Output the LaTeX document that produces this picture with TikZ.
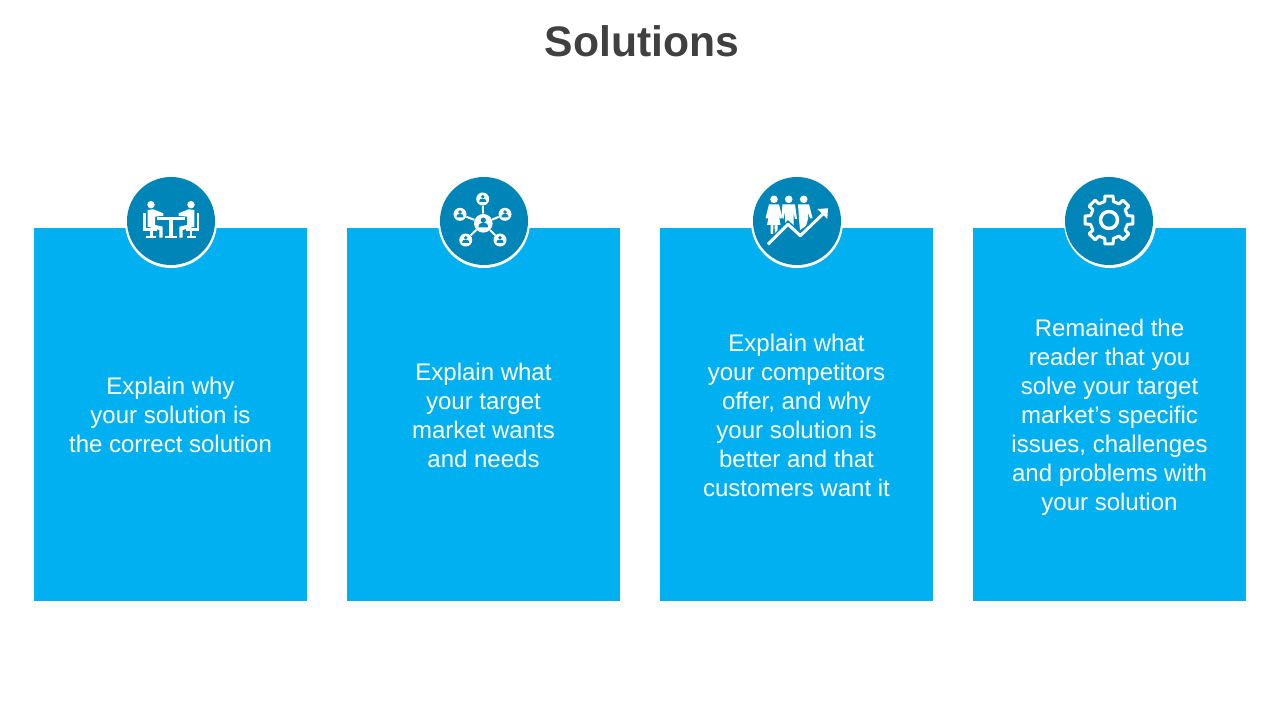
\documentclass[tikz,border=0pt]{standalone}
\usepackage{fontspec}
\setmainfont{Liberation Sans}
\definecolor{boxblue}{HTML}{00B0F0}
\definecolor{badgeblue}{HTML}{0085B8}
\definecolor{titlegray}{HTML}{404040}
\tikzset{
  boxstyle/.style={fill=boxblue,text=white,align=center,inner sep=0,minimum width=204.75pt,minimum height=279.75pt,font=\fontsize{18}{21.75}\selectfont},
  ringstyle/.style={circle,fill=white,inner sep=0,minimum size=69pt},
  badgestyle/.style={circle,fill=badgeblue,inner sep=0,minimum size=66pt},
  titlestyle/.style={text=titlegray,font=\fontsize{32}{40}\selectfont\bfseries,inner sep=0},
  hubstyle/.style={circle,fill=white,inner sep=0,minimum size=#1},
  iconline/.style={draw=white,line width=1.5pt,line join=round},
  pics/sitter/.style={code={
    \fill[white] (-20,-17.3) circle (3.7);
    \fill[white] (-23.3,-12)--(-17.7,-12.7)--(-7.7,-8.7)--(-7.7,-6.3)--(-16,-5.3)--(-16,3)--(-8.3,4.7)--(-8.3,15.7)--(-11.7,15.7)--(-11.7,8)--(-23.3,4.7)--cycle;
    \fill[white] (-27.7,-9) rectangle (-25.5,8.7);
    \fill[white] (-27.7,6.5) rectangle (-14.5,8.7);
    \fill[white] (-21,8.7) rectangle (-18.5,14);
    \fill[white] (-25,13.7) rectangle (-15.5,15.7);
  }},
  pics/tinyperson/.style={code={
    \fill[badgeblue] (0,-2.2) circle (1.9);
    \fill[badgeblue] (-3.3,3)--(-3.3,1.6)to[out=90,in=180](-1,-0.2)--(1,-0.2)to[out=0,in=90](3.3,1.6)--(3.3,3)--cycle;
  }},
}
\begin{document}
\begin{tikzpicture}[x=0.75pt,y=-0.75pt]
\useasboundingbox (0,0) rectangle (1280,720);
\node[titlestyle](title) at (642,41){Solutions};
% boxes
\node[boxstyle](box1) at (170.5,414.5){Explain why\\your solution is\\the correct solution};
\node[boxstyle](box2) at (483.5,414.5){\rule{0pt}{14.5pt}Explain what\\your target\\market wants\\and needs};
\node[boxstyle](box3) at (796.5,414.5){\rule{0pt}{14pt}Explain what\\your competitors\\offer, and why\\your solution is\\better and that\\customers want it};
\node[boxstyle](box4) at (1109.5,414.5){\rule{0pt}{17.5pt}Remained the\\reader that you\\solve your target\\market’s specific\\issues, challenges\\and problems with\\your solution};
% badges
\node[ringstyle](ring1) at (171,222){};
\node[ringstyle](ring2) at (484,222){};
\node[ringstyle](ring3) at (797,222){};
\node[ringstyle](ring4) at (1110,222){};
\node[badgestyle](badge1) at (171,221){};
\node[badgestyle](badge2) at (484,221){};
\node[badgestyle](badge3) at (797,221){};
\node[badgestyle](badge4) at (1109,221){};
% table icon
\begin{scope}[shift={(ring1.center)}]
\pic at (0,0) {sitter};
\pic[xscale=-1] at (0,0) {sitter};
\fill[white] (-14,-4.5) rectangle (14,-2.3);
\fill[white] (-1.6,-2.3) rectangle (1.6,15);
\fill[white] (-6,13.7) rectangle (6,15.7);
\end{scope}
% network icon
\begin{scope}[shift={(ring2.center)}]
\node[hubstyle=14pt](hub) at (-0.7,1.3){};
\node[hubstyle=9.75pt](hubA) at (-1.3,-23){};
\node[hubstyle=9.75pt](hubB) at (-24,-7.7){};
\node[hubstyle=9.75pt](hubC) at (21,-7.7){};
\node[hubstyle=9.75pt](hubD) at (-18.3,18){};
\node[hubstyle=9.75pt](hubE) at (16,18){};
\draw[iconline] (hub)--(hubA);
\draw[iconline] (hub)--(hubB);
\draw[iconline] (hub)--(hubC);
\draw[iconline] (hub)--(hubD);
\draw[iconline] (hub)--(hubE);
\pic[scale=1.4] at (hub) {tinyperson};
\pic at (hubA) {tinyperson};
\pic at (hubB) {tinyperson};
\pic at (hubC) {tinyperson};
\pic at (hubD) {tinyperson};
\pic at (hubE) {tinyperson};
\end{scope}
% people and arrow icon
\begin{scope}[shift={(ring3.center)}]
\fill[white] (-23,-22.7) circle (3.8);
\fill[white] (-8.3,-22.7) circle (3.8);
\fill[white] (6.7,-22.7) circle (3.8);
\fill[white] (-28,-17.7)--(-18,-17.7)--(-14.5,-3.5)--(-17,-3.5)--(-18.5,-9)--(-16.5,3)--(-19.5,3)--(-19.5,12)--(-22,12)--(-22.5,3)--(-23.5,3)--(-24,12)--(-26.5,12)--(-26.5,3)--(-30,3)--(-27.5,-9)--(-29,-3.5)--(-31.5,-3.5)--cycle;
\fill[white] (-14.5,-17.7)--(-2,-17.7)--(0,-3)--(-2,-3)--(-3.5,-10)--(-3.5,4)--(-12,4)--(-12,-10)--(-13.5,-3)--(-15.5,-6)--cycle;
\fill[white] (1,-17.7)--(12,-17.7)--(15.5,-4)--(13,-3.5)--(11,-10)--(11,-3)--(9,4)--(3,8)--(2,-3)--cycle;
\draw[draw=badgeblue,line width=4.5pt] (-29,22.3)--(-9,2.3)--(3.3,13.7)--(24,-6);
\draw[iconline,line width=2.25pt] (-29,22.3)--(-9,2.3)--(3.3,13.7)--(28,-10);
\fill[white] (20.3,-13)--(31,-13.7)--(30.3,-3)--cycle;
\end{scope}
% gear icon
\begin{scope}[shift={(badge4.center)},yshift=0.75pt]
\draw[iconline,line width=2.25pt] (-13:19)
  \foreach \a in {0,45,...,315}{--(\a-13:19)--(\a-10:24.2)--(\a+10:24.2)--(\a+13:19)--(\a+32:19)}--cycle;
\draw[iconline,line width=2.6pt] (0,0) circle (8.5);
\end{scope}
\end{tikzpicture}
\end{document}
